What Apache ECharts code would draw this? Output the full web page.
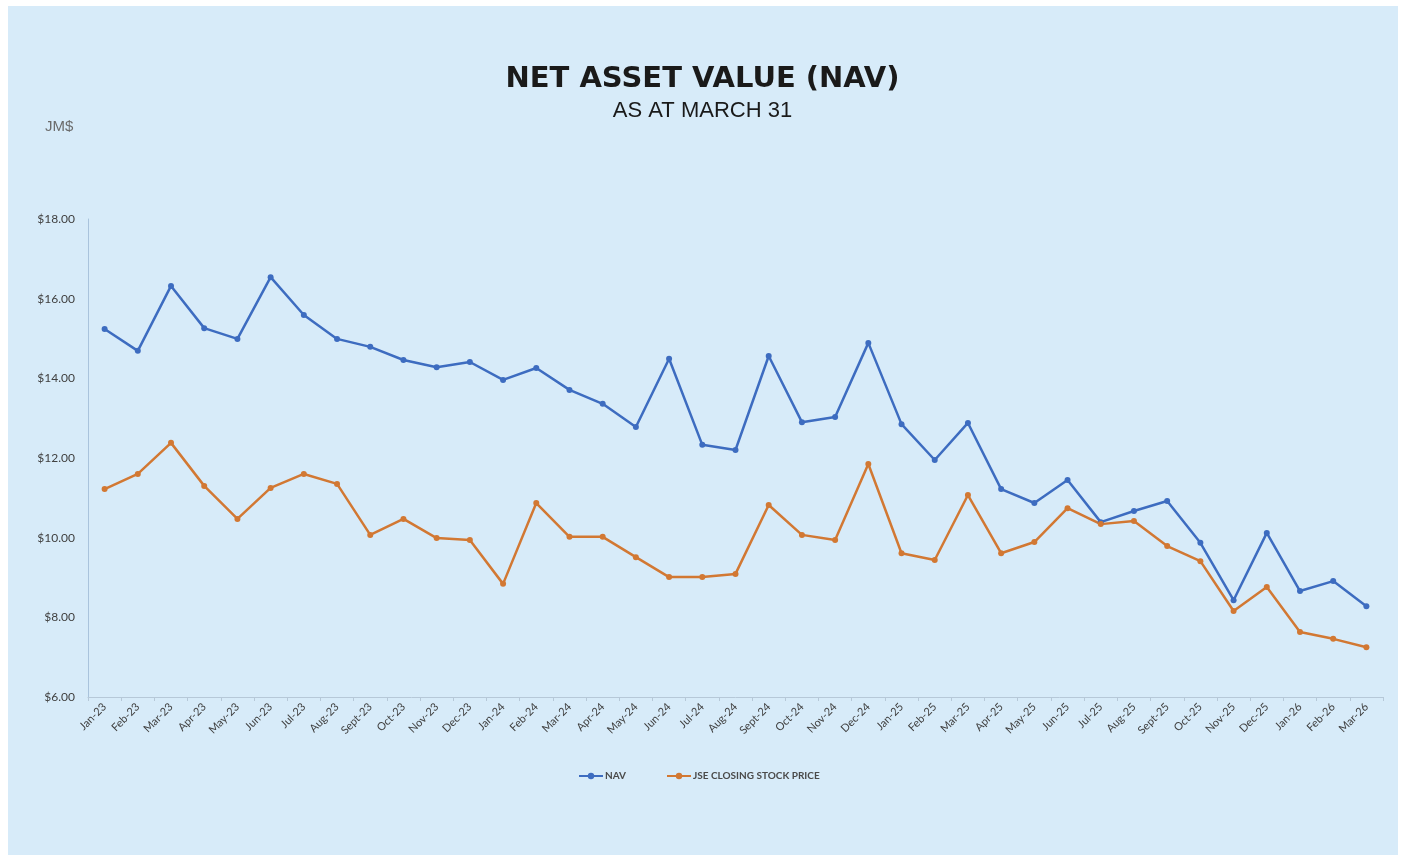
<!DOCTYPE html>
<html>
<head>
<meta charset="utf-8">
<title>Net Asset Value (NAV)</title>
<script src="https://cdn.jsdelivr.net/npm/echarts@6/dist/echarts.min.js"></script>
<style>
  html, body { margin: 0; padding: 0; background: #fff; }
  #chart { width: 1405px; height: 857px; }
</style>
</head>
<body>
<div id="chart"></div>
<script>
// month labels, Jan-23 .. Mar-26
const months = [
  "Jan-23", "Feb-23", "Mar-23", "Apr-23", "May-23", "Jun-23", "Jul-23", "Aug-23", "Sept-23", "Oct-23", "Nov-23", "Dec-23",
  "Jan-24", "Feb-24", "Mar-24", "Apr-24", "May-24", "Jun-24", "Jul-24", "Aug-24", "Sept-24", "Oct-24", "Nov-24", "Dec-24",
  "Jan-25", "Feb-25", "Mar-25", "Apr-25", "May-25", "Jun-25", "Jul-25", "Aug-25", "Sept-25", "Oct-25", "Nov-25", "Dec-25",
  "Jan-26", "Feb-26", "Mar-26"
]

const nav = [
  15.24, 14.69, 16.32, 15.26, 14.99, 16.54, 15.59, 14.99, 14.79, 14.46, 14.28, 14.41,
  13.96, 14.26, 13.71, 13.36, 12.78, 14.49, 12.33, 12.20, 14.56, 12.90, 13.03, 14.89,
  12.85, 11.95, 12.88, 11.22, 10.87, 11.45, 10.39, 10.67, 10.92, 9.87, 8.43, 10.12,
  8.66, 8.91, 8.28
]

const jse = [
  11.22, 11.60, 12.38, 11.30, 10.47, 11.25, 11.60, 11.35, 10.07, 10.47, 9.99, 9.94,
  8.84, 10.87, 10.02, 10.02, 9.51, 9.01, 9.01, 9.09, 10.82, 10.07, 9.94, 11.85,
  9.61, 9.44, 11.07, 9.61, 9.89, 10.74, 10.34, 10.42, 9.79, 9.41, 8.16, 8.76,
  7.63, 7.46, 7.25
]

const yTicks = { min: 6, max: 18, step: 2 }

const navColor = "#3d6cc0"
const jseColor = "#d27833"
const axisFont = "Lato, 'Open Sans', sans-serif"

let myChart = echarts.init(document.getElementById("chart"))

myChart.setOption({
  backgroundColor: "#ffffff",
  animation: false,
  graphic: [
    {
      type: "rect",
      z: -10,
      shape: { x: 8, y: 6, width: 1390, height: 849 },
      style: { fill: "#d7ebf9" },
    },
    {
      type: "text",
      left: 45,
      top: 119,
      style: { text: "JM$", fill: "#6b6b6b", font: "15px 'Liberation Sans Narrow', 'Liberation Sans', sans-serif" },
    },
  ],
  title: {
    text: "NET ASSET VALUE (NAV)",
    subtext: "AS AT MARCH 31",
    left: "center",
    top: 60,
    itemGap: 6,
    textStyle: {
      fontFamily: "'DejaVu Sans', sans-serif",
      fontWeight: "bold",
      fontSize: 29,
      color: "#1a1a1a",
    },
    subtextStyle: {
      fontFamily: "'Liberation Sans', sans-serif",
      fontSize: 22,
      color: "#1a1a1a",
    },
  },
  legend: {
    left: 573,
    top: 766,
    itemWidth: 24,
    itemHeight: 8,
    itemGap: 40,
    textStyle: {
      fontFamily: axisFont,
      fontSize: 10,
      fontWeight: "bold",
      color: "#4a4a4a",
      padding: [0, 0, 0, -3],
    },
    data: ["NAV", "JSE CLOSING STOCK PRICE"],
  },
  grid: {
    left: 88,
    top: 219,
    right: 22,
    bottom: 160,
  },
  xAxis: {
    type: "category",
    data: months,
    boundaryGap: true,
    axisLine: { lineStyle: { color: "#b6c8d8", width: 1 } },
    axisTick: { show: true, length: 4, lineStyle: { color: "#b6c8d8" } },
    axisLabel: {
      rotate: 45,
      margin: 8,
      interval: 0,
      fontFamily: axisFont,
      fontSize: 11,
      color: "#404040",
    },
  },
  yAxis: {
    type: "value",
    min: yTicks.min,
    max: yTicks.max,
    interval: yTicks.step,
    splitLine: { show: false },
    axisLine: { show: true, lineStyle: { color: "#a9c3dc", width: 1 } },
    axisTick: { show: false },
    axisLabel: {
      margin: 13,
      fontFamily: axisFont,
      fontSize: 12,
      color: "#404040",
      formatter: (v) => "$" + v.toFixed(2),
    },
  },
  series: [
    {
      name: "NAV",
      type: "line",
      data: nav,
      symbol: "circle",
      symbolSize: 6,
      itemStyle: { color: navColor },
      lineStyle: { color: navColor, width: 2.5 },
    },
    {
      name: "JSE CLOSING STOCK PRICE",
      type: "line",
      data: jse,
      symbol: "circle",
      symbolSize: 6,
      itemStyle: { color: jseColor },
      lineStyle: { color: jseColor, width: 2.5 },
    },
  ],
})
</script>
</body>
</html>
